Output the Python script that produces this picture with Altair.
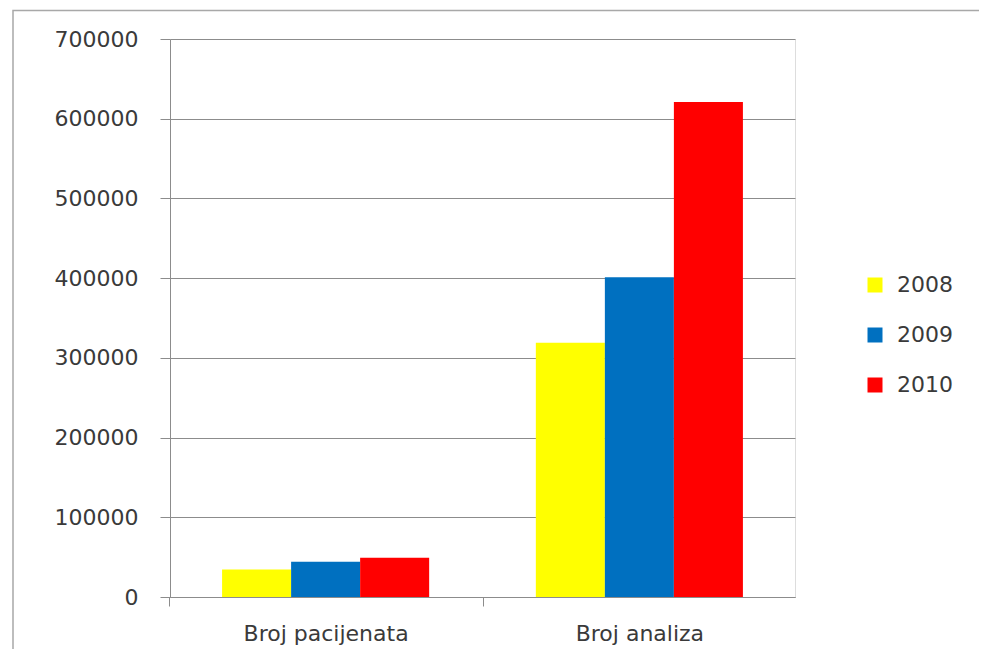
import altair as alt
import pandas as pd

categories = ["Broj pacijenata", "Broj analiza"]
years = ["2008", "2009", "2010"]
values_2008 = [34600, 319000]
values_2009 = [44100, 401000]
values_2010 = [49100, 621000]
colors = ["#FFFF00", "#0070C0", "#FF0000"]
y_ticks = [0, 100000, 200000, 300000, 400000, 500000, 600000, 700000]

rows = []
for yr, vals in zip(years, [values_2008, values_2009, values_2010]):
    for c, v in zip(categories, vals):
        rows.append({"category": c, "year": yr, "value": v})
df = pd.DataFrame(rows)

FONT = "DejaVu Sans"
GRID = "#8c8c8c"
TEXT = "#3a3a3a"
FS = 22

bars = alt.Chart(df).mark_bar().encode(
    x=alt.X("category:N", sort=categories, title=None,
            scale=alt.Scale(paddingInner=0.34, paddingOuter=0.166),
            axis=alt.Axis(labelAngle=0, tickOffset=-156.5, labelOffset=156.5,
                          tickSize=9, tickColor=GRID, domainColor=GRID,
                          labelFontSize=FS, labelFont=FONT, labelColor=TEXT,
                          labelPadding=17, grid=False)),
    xOffset=alt.XOffset("year:N", sort=years,
                        scale=alt.Scale(paddingInner=0, paddingOuter=0)),
    y=alt.Y("value:Q", title=None,
            scale=alt.Scale(domain=[0, 700000], nice=False),
            axis=alt.Axis(values=y_ticks, format="d", tickSize=10,
                          tickColor=GRID, domainColor=GRID, gridColor=GRID,
                          gridOpacity=1, labelFontSize=FS, labelFont=FONT,
                          labelColor=TEXT, labelPadding=22)),
    color=alt.Color("year:N", sort=years,
                    scale=alt.Scale(domain=years, range=colors),
                    legend=alt.Legend(title=None, orient="none", legendX=694,
                                      legendY=235, symbolType="square",
                                      symbolSize=225, symbolStrokeWidth=0,
                                      labelFontSize=FS, labelFont=FONT,
                                      labelColor=TEXT, rowPadding=28,
                                      labelOffset=11, padding=0)),
)

frame = alt.Chart(pd.DataFrame({"a": [0]})).mark_rect(
    fill=None, stroke="#a8a8a8", strokeWidth=1.5
).encode(
    x=alt.value(-157), x2=alt.value(1000),
    y=alt.value(-28.5), y2=alt.value(700),
)

chart = alt.layer(frame, bars).properties(
    width=625, height=558,
    padding={"left": 162, "top": 31, "right": 184, "bottom": 52},
    autosize=alt.AutoSizeParams(type="none"),
).configure_view(stroke=None).configure(background="white")

chart.save("out.html", embed_options={"renderer": "svg", "actions": False})
